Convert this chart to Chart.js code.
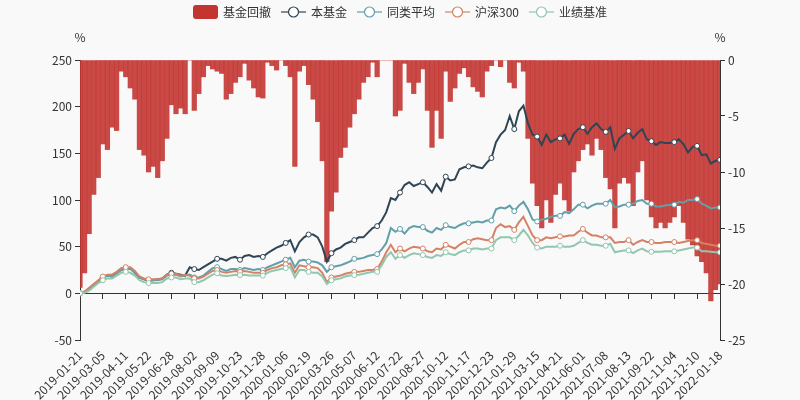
<!DOCTYPE html>
<html lang="zh-CN">
<head>
<meta charset="utf-8">
<title>基金回撤</title>
<script src="https://cdn.jsdelivr.net/npm/chart.js@4.4.1/dist/chart.umd.min.js"></script>
<style>
  html, body { margin: 0; padding: 0; background: #f9f9f9; }
  #wrap { width: 800px; height: 400px; }
</style>
</head>
<body>
<div id="wrap"><canvas id="chart"></canvas></div>
<script>
// 横轴刻度标签（每 5 个数据点一个）
const tickLabels = [
  '2019-01-21', '2019-03-05', '2019-04-11', '2019-05-22', '2019-06-28', '2019-08-02',
  '2019-09-09', '2019-10-23', '2019-11-28', '2020-01-06', '2020-02-19', '2020-03-26',
  '2020-05-07', '2020-06-12', '2020-07-22', '2020-08-27', '2020-10-12', '2020-11-17',
  '2020-12-23', '2021-01-29', '2021-03-15', '2021-04-21', '2021-06-01', '2021-07-08',
  '2021-08-13', '2021-09-22', '2021-11-04', '2021-12-10', '2022-01-18'
];
const pointsPerTick = 5;

// 累计收益 (%)，左轴
const fund = [
  0, 1, 5, 8, 12, 17, 19, 18, 22, 25,
  27, 27, 22, 17, 15, 14, 14, 15, 16, 20,
  22, 21, 20, 19, 28, 26, 25, 28, 31, 34,
  37, 37, 35, 38, 39, 36, 40, 41, 39, 40,
  39, 43, 46, 49, 51, 54, 57, 45, 55, 60,
  63, 63, 60, 50, 34, 43, 47, 49, 53, 55,
  57, 60, 60, 65, 70, 72, 78, 87, 102, 100,
  108, 116, 119, 115, 117, 119, 114, 108, 117, 110,
  125, 121, 122, 133, 135, 136, 137, 135, 134, 140,
  145, 162, 170, 175, 190, 176, 195, 201, 182, 170,
  168, 159, 170, 162, 165, 166, 170, 160, 171, 176,
  178, 171, 178, 182, 176, 173, 178, 155, 166, 170,
  174, 166, 172, 176, 165, 163, 159, 162, 161, 161,
  162, 165, 160, 151, 157, 158, 148, 149, 139, 142, 143
];
const peer = [
  0, 1, 5, 9, 13, 17, 19, 18, 21, 25,
  26, 26, 22, 17, 15, 14, 14, 14, 15, 19,
  20, 20, 18, 19, 20, 17, 17, 19, 23, 27,
  28, 26, 24, 26, 26, 25, 27, 26, 25, 26,
  25, 28, 30, 32, 34, 36, 38, 28, 35, 36,
  34, 34, 33, 30, 23, 28, 29, 30, 32, 34,
  37, 37, 38, 40, 41, 42, 47, 54, 70, 66,
  69, 64, 70, 72, 71, 71, 67, 65, 70, 68,
  73, 71, 70, 73, 75, 75, 76, 77, 76, 78,
  78, 90, 92, 91, 94, 88, 94, 98, 90, 79,
  77, 79, 80, 82, 83, 83, 87, 86, 90, 95,
  95, 91, 94, 96, 96, 96, 100, 92, 93, 95,
  95, 96, 99, 100, 96, 96, 93, 93, 94, 95,
  95, 98, 97, 100, 100, 101, 96, 94, 91, 92, 92
];
const csi300 = [
  0, 2, 6, 10, 14, 18, 20, 20, 23, 27,
  28, 28, 24, 18, 16, 15, 15, 15, 16, 20,
  21, 21, 19, 20, 19, 16, 16, 18, 21, 24,
  25, 23, 22, 23, 24, 23, 24, 23, 22, 22,
  22, 25, 27, 28, 30, 31, 32, 22, 30, 29,
  28, 28, 27, 22, 12, 17, 18, 19, 21, 22,
  23, 23, 24, 25, 25, 26, 34, 44, 52, 44,
  48, 45, 48, 50, 49, 48, 45, 44, 48, 47,
  52, 50, 48, 52, 55, 55, 58, 59, 58, 57,
  57, 70, 74, 71, 72, 68, 76, 82, 72, 62,
  57, 57, 60, 59, 60, 61, 61, 62, 62, 66,
  69, 65, 62, 62, 60, 60, 60, 54, 55, 55,
  57, 52, 55, 57, 55, 55, 54, 54, 55, 55,
  55, 54, 55, 56, 57, 57, 54, 53, 52, 51, 51
];
const bench = [
  0, 0.5, 3, 7, 11, 14, 16, 16, 19, 22,
  23, 22, 19, 14, 12, 11, 11, 11, 12, 16,
  17, 17, 15, 16, 16, 12, 12, 14, 17, 20,
  21.5, 19, 18.5, 19, 20, 19.5, 20, 19, 19, 19,
  19, 22, 24, 25, 26, 27, 28, 17, 25, 25,
  23, 22, 22, 18, 10, 14, 15, 16, 18, 19,
  19.5, 20, 21, 22, 23, 23, 30, 39, 44, 37,
  41, 38, 41, 43, 42, 41, 39, 38, 41, 40,
  44, 42, 41, 44, 46, 46, 48, 48, 47, 48,
  48, 57, 60, 60, 60, 57, 62, 68, 62, 54,
  49, 48, 50, 50, 50, 51, 50, 50, 51, 54,
  57, 54, 52, 52, 51, 51, 53, 44, 45, 46,
  46, 43, 46, 48, 45, 44.5, 44.5, 44.5, 45, 45,
  45, 46, 47, 48, 49, 49, 45, 45, 44.5, 44, 44
];
// 基金回撤 (%)，右轴
const drawdown = [
  -20.3, -19, -15.5, -12, -10.5, -7.5, -8, -6, -6.3, -1,
  -1.5, -2.5, -3.5, -8, -8.5, -10, -9.5, -10.5, -9, -7,
  -4, -4.8, -4.3, -4.8, 0, -4.5, -3, -1.5, -0.5, -0.8,
  -1, -1.2, -3.5, -3, -2, -1.5, -0.3, -1.8, -2.5, -3.3,
  -3.4, -0.2, -0.5, -0.9, 0, -0.5, -1.5, -9.5, -1, -0.5,
  -2.2, -3.5, -5.5, -9, -18, -13.5, -11.8, -8.7, -7.8, -6,
  -4.8, -3.5, -2, -1.5, -0.2, -1.5, 0, 0, 0, -5,
  -4.5, -0.3, -2, -3, -2, -0.8, -4.5, -7.8, -4.5, -7,
  -1, -3.7, -2.5, -1.2, -0.7, -1.5, -2.4, -2.8, -3.3, -1,
  -0.5, 0, -0.6, 0, -2, -2.5, -0.2, -1, -7, -11,
  -13, -15, -12.5, -14.5, -12, -11, -12.5, -13.5, -10, -9,
  -8, -7.5, -8.5, -7, -8, -10.5, -11.5, -15, -11, -10.5,
  -11, -13, -10, -9, -12.5, -14, -15, -14.5, -15, -14.5,
  -14, -13, -14.5, -16, -16.5, -17.5, -18, -19, -21.5, -20.5, -20
];

const FONT = '"Noto Sans CJK SC", "DejaVu Sans", sans-serif';
const idx = fund.map((_, i) => i);

function lineSet(label, data, color, order) {
    return {
        type: 'line',
        label: label,
        data: data,
        yAxisID: 'y',
        borderColor: color,
        borderWidth: 2,
        tension: 0,
        order: order,
        pointRadius: c => (c.dataIndex % pointsPerTick === 0 ? 2.5 : 0),
        pointBackgroundColor: '#fff',
        pointBorderColor: color,
        pointBorderWidth: 1,
        legendColor: color
    };
}

// 背景色 + 顶部图例 + 轴名称 "%"
const decorPlugin = {
    id: 'decor',
    beforeDraw(chart) {
        const ctx = chart.ctx;
        ctx.save();
        ctx.fillStyle = '#f9f9f9';
        ctx.fillRect(0, 0, chart.width, chart.height);
        ctx.restore();
    },
    afterDraw(chart) {
        const ctx = chart.ctx;
        ctx.save();
        ctx.font = '12px ' + FONT;
        ctx.textBaseline = 'middle';
        ctx.textAlign = 'left';
        const sets = chart.data.datasets;
        const widths = sets.map(ds => 25 + 5 + ctx.measureText(ds.label).width);
        const total = widths.reduce((a, b) => a + b, 0) + 10 * (sets.length - 1);
        let x = (chart.width - total) / 2;
        const y = 12;
        sets.forEach((ds, k) => {
            if (ds.type === 'bar') {
                ctx.fillStyle = ds.legendColor;
                ctx.beginPath();
                ctx.roundRect(x, y - 7, 25, 14, 3);
                ctx.fill();
            } else {
                ctx.globalAlpha = 0.6;
                ctx.strokeStyle = ds.legendColor;
                ctx.lineWidth = 2;
                ctx.beginPath();
                ctx.moveTo(x, y);
                ctx.lineTo(x + 25, y);
                ctx.stroke();
                ctx.globalAlpha = 1;
                ctx.beginPath();
                ctx.arc(x + 12.5, y, 5, 0, Math.PI * 2);
                ctx.fillStyle = '#fff';
                ctx.fill();
                ctx.lineWidth = 1.2;
                ctx.stroke();
            }
            ctx.fillStyle = '#333';
            ctx.fillText(ds.label, x + 30, y);
            x += widths[k] + 10;
        });
        ctx.textAlign = 'center';
        ctx.fillText('%', chart.scales.y.right, 37);
        ctx.fillText('%', chart.scales.y1.left, 37);
        ctx.restore();
    }
};

const axisGrid = { drawOnChartArea: false, drawTicks: true, tickLength: 5, color: '#333' };
const tickFont = { size: 12, family: FONT };

new Chart(document.getElementById('chart'), {
    type: 'bar',
    data: {
        labels: idx,
        datasets: [
            {
                type: 'bar',
                label: '基金回撤',
                data: drawdown,
                yAxisID: 'y1',
                backgroundColor: 'rgba(194, 53, 49, 0.9)',
                barPercentage: 1,
                categoryPercentage: 1,
                order: 5,
                legendColor: '#c23531'
            },
            lineSet('本基金', fund, '#2f4554', 4),
            lineSet('同类平均', peer, '#61a0a8', 3),
            lineSet('沪深300', csi300, '#d48265', 2),
            lineSet('业绩基准', bench, '#91c7ae', 1)
        ]
    },
    options: {
        responsive: true,
        maintainAspectRatio: false,
        animation: false,
        events: [],
        layout: { padding: { top: 60, bottom: 60, left: 0, right: 0 } },
        plugins: {
            legend: { display: false },
            tooltip: { enabled: false }
        },
        scales: {
            x: {
                type: 'linear',
                position: { y: 0 },   // 轴线在 0 处
                offset: false,
                min: 0,
                max: fund.length - 1,
                grid: Object.assign({ offset: false }, axisGrid),
                border: { display: true, color: '#333' },
                ticks: {
                    stepSize: pointsPerTick,
                    autoSkip: false,
                    minRotation: 45,
                    maxRotation: 45,
                    padding: 50,      // 标签放在绘图区底部下方
                    color: '#333',
                    font: tickFont,
                    callback: v => tickLabels[v / pointsPerTick]
                },
                // 标签不挤占左右空间
                afterFit: s => { s.paddingLeft = 0; s.paddingRight = 0; }
            },
            y: {
                position: 'left',
                min: -50,
                max: 250,
                grid: axisGrid,
                border: { display: true, color: '#333' },
                ticks: { stepSize: 50, color: '#333', font: tickFont, padding: 3 },
                afterFit: s => { s.width = 80; }
            },
            y1: {
                position: 'right',
                min: -25,
                max: 0,
                grid: axisGrid,
                border: { display: true, color: '#333' },
                ticks: { stepSize: 5, color: '#333', font: tickFont, padding: 3 },
                afterFit: s => { s.width = 80; }
            }
        }
    },
    plugins: [decorPlugin]
});
</script>
</body>
</html>
